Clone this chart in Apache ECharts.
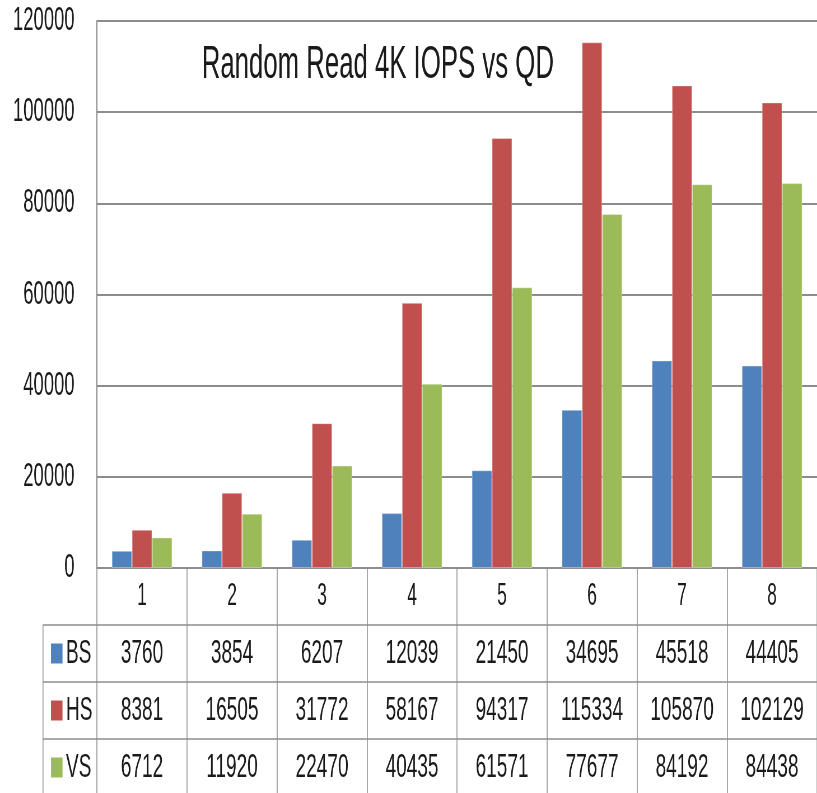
<!DOCTYPE html>
<html>
<head>
<meta charset="utf-8">
<script src="https://cdn.jsdelivr.net/npm/echarts@6/dist/echarts.min.js"></script>
<style>
  html, body { margin: 0; padding: 0; overflow: hidden; background: #fff; }
  #chart { width: 1459px; height: 793px; transform: scaleX(0.56); transform-origin: 0 0; }
</style>
</head>
<body>
<div id="chart"></div>
<script>
// data
var queueDepths = ['1', '2', '3', '4', '5', '6', '7', '8'];
var seriesNames = ['BS', 'HS', 'VS'];
var bsValues = [3760, 3854, 6207, 12039, 21450, 34695, 45518, 44405];
var hsValues = [8381, 16505, 31772, 58167, 94317, 115334, 105870, 102129];
var vsValues = [6712, 11920, 22470, 40435, 61571, 77677, 84192, 84438];
var colors = ['#4f81bd', '#c0504d', '#9bbb59'];

// the reference is squeezed sideways, so the chart is drawn wide and scaled by css
var S = 0.56;
function px(x) { return x / S; }

var W = 1459;
var gridTop = 21, gridHeight = 547;
var rowH = 57;
var font = "'Liberation Sans', Arial, sans-serif";
var lineColor = '#8c8c8c';
var textColor = '#1a1a1a';

var chart = echarts.init(document.getElementById('chart'));

var allValues = [bsValues, hsValues, vsValues];
var series = seriesNames.map(function (name, i) {
  return {
    name: name,
    type: 'bar',
    data: allValues[i],
    barGap: 0,
    barCategoryGap: '33%',
    itemStyle: { color: colors[i], borderColor: 'rgba(255,255,255,0.35)', borderWidth: 1 }
  };
});

// table under the axis: row lines, left border, legend keys
var graphics = [];
var axisY = gridTop + gridHeight;
for (var r = 1; r <= 3; r++) {
  graphics.push({
    type: 'line',
    shape: { x1: px(43), y1: axisY + rowH * r, x2: W, y2: axisY + rowH * r },
    style: { stroke: lineColor, lineWidth: 1.5 }
  });
}
graphics.push({
  type: 'line',
  shape: { x1: px(43), y1: axisY + rowH, x2: px(43), y2: 793 },
  style: { stroke: lineColor, lineWidth: 1.5 }
});
seriesNames.forEach(function (name, i) {
  var cy = axisY + rowH * (i + 1) + rowH / 2;
  graphics.push({
    type: 'rect',
    shape: { x: px(51), y: cy - 10, width: px(11.5), height: 20 },
    style: { fill: colors[i] }
  });
  graphics.push({
    type: 'text',
    x: px(66),
    y: cy,
    style: {
      text: name,
      fontSize: 34,
      fontFamily: font,
      fill: textColor,
      verticalAlign: 'middle'
    }
  });
});

var option = {
  animation: false,
  title: {
    text: 'Random Read 4K IOPS vs QD',
    left: px(375),
    textAlign: 'center',
    top: 37,
    textStyle: { fontSize: 46, fontWeight: 'normal', fontFamily: font, color: textColor }
  },
  grid: {
    left: px(97),
    width: px(724),
    top: gridTop,
    height: gridHeight
  },
  xAxis: {
    type: 'category',
    data: queueDepths,
    axisLine: { lineStyle: { color: lineColor, width: 2 } },
    axisTick: { show: true, length: 230, interval: 0, lineStyle: { color: lineColor, width: 1.5 } },
    axisLabel: {
      interval: 0,
      margin: 0,
      fontFamily: font,
      color: textColor,
      formatter: function (v, i) {
        return ['{h|' + v + '}', '{v|' + bsValues[i] + '}', '{v|' + hsValues[i] + '}', '{v|' + vsValues[i] + '}'].join('\n');
      },
      rich: {
        h: { fontSize: 31, lineHeight: rowH, fontFamily: font, color: textColor },
        v: { fontSize: 34, lineHeight: rowH, fontFamily: font, color: textColor }
      }
    }
  },
  yAxis: {
    type: 'value',
    min: 0,
    max: 120000,
    interval: 20000,
    axisLine: { show: true, lineStyle: { color: lineColor, width: 2 } },
    axisTick: { show: false },
    splitLine: { lineStyle: { color: lineColor, width: 2 } },
    axisLabel: {
      fontSize: 33,
      margin: 40,
      fontFamily: font,
      color: textColor,
      formatter: function (v) { return String(v); }
    }
  },
  graphic: graphics,
  series: series
};

chart.setOption(option);
</script>
</body>
</html>
